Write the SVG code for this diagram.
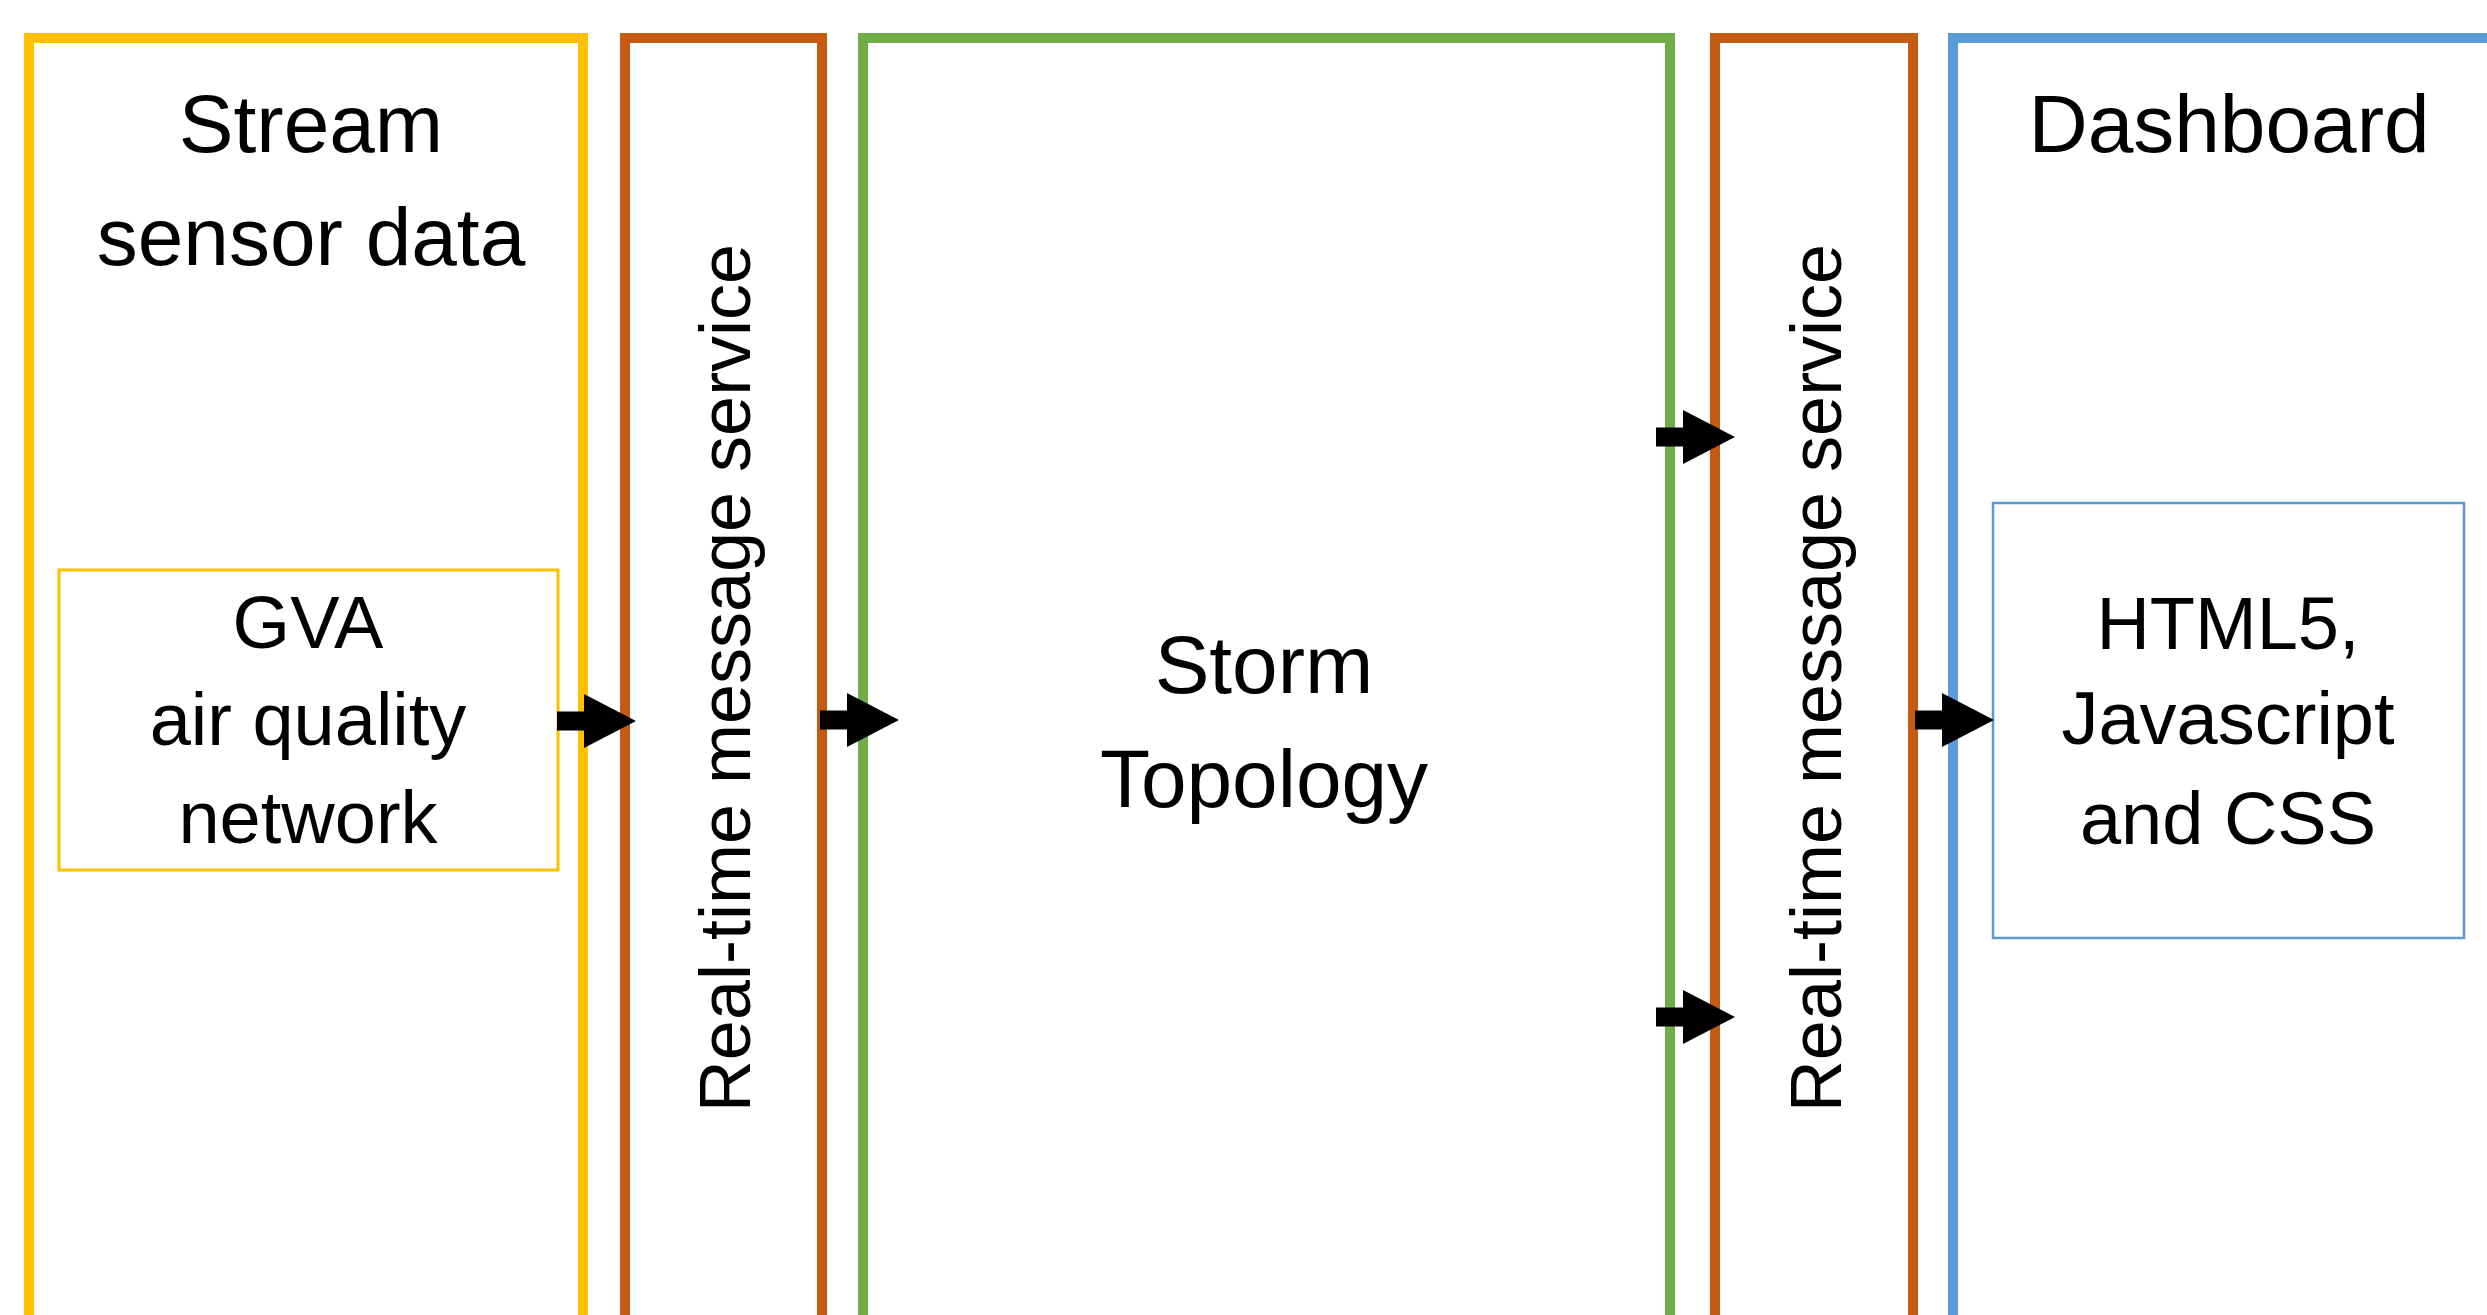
<svg xmlns="http://www.w3.org/2000/svg" xmlns:xlink="http://www.w3.org/1999/xlink" width="2487" height="1315" viewBox="0 0 2487 1315">
<style>
  text { font-family: "Liberation Sans", Arial, sans-serif; fill: #000; text-anchor: middle; }
  .title { font-size: 82px; }
  .inner { font-size: 74px; }
  .vert { font-size: 72px; }
  .outer { fill: none; stroke-width: 10; }
  .yellow { stroke: #FFC000; }
  .orange { stroke: #C55A11; }
  .green { stroke: #70AD47; }
  .blue { stroke: #5B9BD5; }
  .arrow { fill: #000; }
</style>
<defs>
  <path id="arr" d="M0,-9.5 H27 V-27 L79,0 L27,27 V9.5 H0 Z"/>
</defs>
<rect width="2487" height="1315" fill="#fff"/>

<g id="stream-sensor-data">
  <rect class="outer yellow" x="29" y="38" width="554" height="1310"/>
  <text class="title" x="311" y="152">Stream</text>
  <text class="title" x="311" y="265">sensor data</text>
</g>
<g id="gva-network">
  <rect x="59" y="570" width="499" height="300" fill="none" stroke="#FFC000" stroke-width="3"/>
  <text class="inner" x="308" y="648">GVA</text>
  <text class="inner" x="308" y="745">air quality</text>
  <text class="inner" x="308" y="843">network</text>
</g>
<g id="message-service-1">
  <rect class="outer orange" x="625" y="38" width="197" height="1310"/>
  <text class="vert" transform="translate(750,678) rotate(-90)">Real-time message service</text>
</g>
<g id="storm-topology">
  <rect class="outer green" x="863" y="38" width="807" height="1310"/>
  <text class="title" x="1264" y="693">Storm</text>
  <text class="title" x="1264" y="807">Topology</text>
</g>
<g id="message-service-2">
  <rect class="outer orange" x="1715" y="38" width="198" height="1310"/>
  <text class="vert" transform="translate(1841,678) rotate(-90)">Real-time message service</text>
</g>
<g id="dashboard">
  <rect class="outer blue" x="1953" y="38" width="600" height="1310"/>
  <text class="title" x="2229" y="152">Dashboard</text>
</g>
<g id="html-js-css">
  <rect x="1993" y="503" width="471" height="435" fill="none" stroke="#5B9BD5" stroke-width="2.5"/>
  <text class="inner" x="2228" y="649">HTML5,</text>
  <text class="inner" x="2228" y="744">Javascript</text>
  <text class="inner" x="2228" y="844">and CSS</text>
</g>

<g id="connectors" class="arrow">
  <use xlink:href="#arr" x="557" y="721"/>
  <use xlink:href="#arr" x="820" y="720"/>
  <use xlink:href="#arr" x="1656" y="437"/>
  <use xlink:href="#arr" x="1656" y="1017"/>
  <use xlink:href="#arr" x="1915" y="720"/>
</g>
</svg>
